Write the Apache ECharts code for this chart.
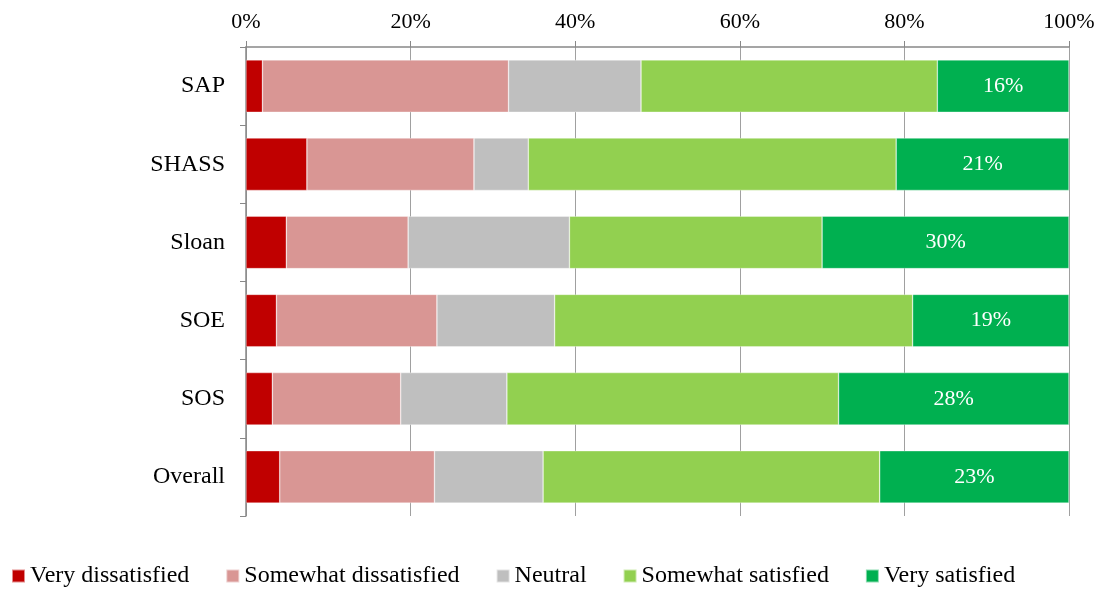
<!DOCTYPE html>
<html>
<head>
<meta charset="utf-8">
<title>Satisfaction by school</title>
<script src="https://cdn.jsdelivr.net/npm/echarts@6/dist/echarts.min.js"></script>
<style>
  html, body { margin: 0; padding: 0; background: #fff; }
  #chart { width: 1101px; height: 590px; }
</style>
</head>
<body>
<div id="chart"></div>
<script>
// Share of respondents (%) per school, by satisfaction level
const schools = ['SAP', 'SHASS', 'Sloan', 'SOE', 'SOS', 'Overall'];
const veryDissatisfied     = [2.0, 7.4, 4.9, 3.7, 3.2, 4.1];
const somewhatDissatisfied = [29.9, 20.3, 14.8, 19.5, 15.6, 18.8];
const neutral              = [16.1, 6.6, 19.6, 14.3, 12.9, 13.2];
const somewhatSatisfied    = [36.0, 44.7, 30.7, 43.5, 40.3, 40.9];
const verySatisfied        = [16, 21, 30, 19, 28, 23];
const levelNames = ['Very dissatisfied', 'Somewhat dissatisfied', 'Neutral', 'Somewhat satisfied', 'Very satisfied'];
const levelColors = ['#C00000', '#D99694', '#BFBFBF', '#92D050', '#00B050'];
const percentTicks = [0, 20, 40, 60, 80, 100];

const FONT = '"Liberation Serif", "Times New Roman", serif';
const levels = [veryDissatisfied, somewhatDissatisfied, neutral, somewhatSatisfied, verySatisfied];

const series = levels.map((vals, i) => ({
  name: levelNames[i],
  type: 'bar',
  stack: 'total',
  barCategoryGap: '33%',
  data: vals,
  itemStyle: {
    color: levelColors[i],
    borderColor: 'rgba(255,255,255,0.55)',
    borderWidth: 0.6
  },
  label: i === levels.length - 1 ? {
    show: true,
    position: 'inside',
    color: '#fff',
    fontFamily: FONT,
    fontSize: 22,
    formatter: p => p.value + '%'
  } : { show: false },
  emphasis: { disabled: true }
}));

const chart = echarts.init(document.getElementById('chart'));
chart.setOption({
  animation: false,
  textStyle: { fontFamily: FONT },
  grid: { left: 246, right: 32, top: 47, bottom: 74, containLabel: false },
  legend: {
    data: levelNames,
    left: 6,
    top: 559,
    icon: 'rect',
    itemWidth: 13,
    itemHeight: 13,
    itemGap: 36,
    textStyle: { fontFamily: FONT, fontSize: 24, color: '#000' }
  },
  xAxis: {
    type: 'value',
    position: 'top',
    min: percentTicks[0],
    max: percentTicks[percentTicks.length - 1],
    interval: percentTicks[1] - percentTicks[0],
    axisLine: { show: true, lineStyle: { color: '#888', width: 1.5 } },
    axisTick: { show: true, length: 6, lineStyle: { color: '#888' } },
    splitLine: { show: true, lineStyle: { color: '#a0a0a0', width: 1 } },
    axisLabel: {
      formatter: '{value}%',
      fontFamily: FONT,
      fontSize: 22,
      color: '#000',
      margin: 14
    }
  },
  yAxis: {
    type: 'category',
    data: schools,
    inverse: true,
    axisLine: { show: true, lineStyle: { color: '#888', width: 1.5 } },
    axisTick: { show: true, length: 6, lineStyle: { color: '#888' } },
    splitLine: { show: false },
    axisLabel: {
      fontFamily: FONT,
      fontSize: 24,
      color: '#000',
      margin: 21
    }
  },
  series: series
});
</script>
</body>
</html>
